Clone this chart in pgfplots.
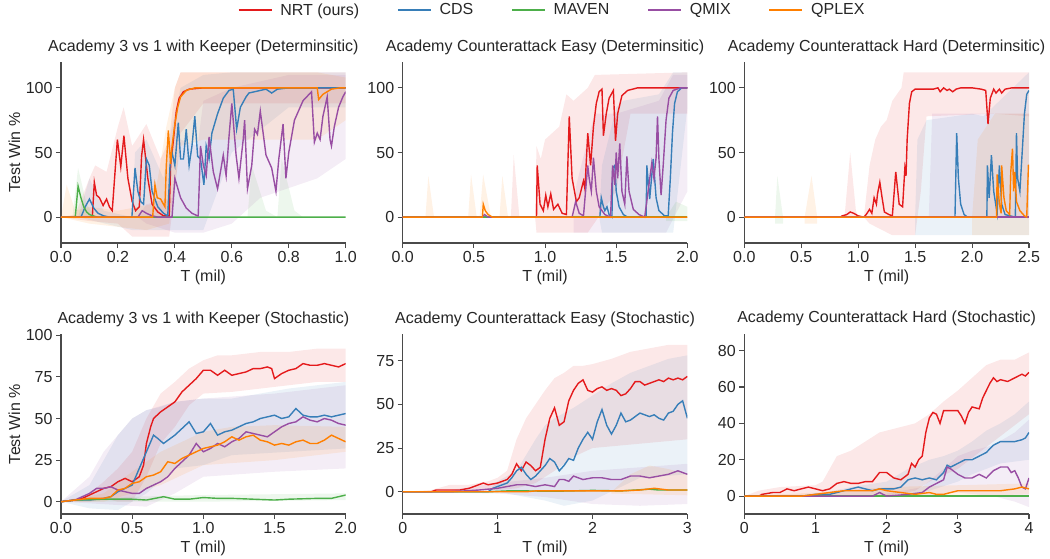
\documentclass[border=0pt]{standalone}
\usepackage{fontspec}
\setmainfont{Liberation Sans}
\usepackage{pgfplots}
\pgfplotsset{compat=1.18}
\definecolor{cR}{HTML}{E41A1C}
\definecolor{cB}{HTML}{377EB8}
\definecolor{cG}{HTML}{4DAF4A}
\definecolor{cP}{HTML}{984EA3}
\definecolor{cO}{HTML}{FF7F00}
\definecolor{txt}{HTML}{262626}
\definecolor{spine}{HTML}{4A4A4A}
\newcommand\fs{\fontsize{16}{19}\selectfont}
\pgfplotsset{
  myax/.style={
    scale only axis, width=284.7pt,
    axis x line*=bottom, axis y line*=left,
    axis line style={spine, line width=1.1pt},
    tick style={spine, line width=1.1pt},
    tick align=outside, major tick length=5pt,
    ticklabel style={font=\fs, text=txt},
    /pgf/number format/assume math mode=true,
    title style={font=\fs, text=txt, at={(axis description cs:0.5,1)}, anchor=base, yshift=5pt},
    xlabel style={font=\fs, text=txt, at={(axis description cs:0.5,0)}, anchor=base, yshift=-38pt},
    ylabel style={font=\fs, text=txt, at={(axis description cs:-0.144,0.5)}, anchor=base},
    xlabel={T (mil)},
    clip=true,
  },
  band/.style={draw=none, fill=#1, fill opacity=0.1, forget plot},
  ln/.style={draw=#1, line width=1.4pt, mark=none, forget plot},
}
\begin{document}
\begin{tikzpicture}
\path[use as bounding box] (0,0) rectangle (1050pt,-559pt);
%================ Plot 1
\begin{axis}[myax, height=181pt, at={(61pt,-243pt)}, anchor=south west,
  xmin=0, xmax=1, ymin=-20, ymax=120,
  xtick={0,0.2,0.4,0.6,0.8,1}, xticklabels={0.0,0.2,0.4,0.6,0.8,1.0},
  ytick={0,50,100}, yticklabels={0,50,100},
  title={Academy 3 vs 1 with Keeper (Determinsitic)}, ylabel={Test Win \%},
  legend columns=5,
  legend style={draw=none, fill=none, font=\fs, text=txt, at={(axis description cs:1.7254,1.2873)}, anchor=center,
    /tikz/every even column/.append style={column sep=36pt},
    /tikz/every odd column/.append style={column sep=6pt}},
  legend image code/.code={\draw[#1] (0pt,0pt) -- (33pt,0pt);},
]
\addlegendimage{cR, line width=1.4pt}\addlegendentry{NRT (ours)}
\addlegendimage{cB, line width=1.4pt}\addlegendentry{CDS}
\addlegendimage{cG, line width=1.4pt}\addlegendentry{MAVEN}
\addlegendimage{cP, line width=1.4pt}\addlegendentry{QMIX}
\addlegendimage{cO, line width=1.4pt}\addlegendentry{QPLEX}
% bands
\addplot[band=cR] coordinates {(0,0) (0.05,2) (0.1,30) (0.12,40) (0.16,35) (0.2,70) (0.22,85) (0.25,55) (0.3,72) (0.35,45) (0.38,60) (0.4,100) (0.42,112) (1.0,112) (1.0,88) (0.5,88) (0.42,65) (0.4,20) (0.38,-15) (0.25,-15) (0.2,-5) (0.1,-3) (0,0)} -- cycle;
\addplot[band=cB] coordinates {(0.06,0) (0.1,30) (0.15,5) (0.25,0) (0.26,50) (0.3,60) (0.36,30) (0.38,60) (0.42,100) (0.5,110) (0.6,112) (1.0,112) (1.0,85) (0.8,85) (0.6,50) (0.5,-10) (0.38,-10) (0.25,-10) (0.06,0)} -- cycle;
\addplot[band=cG] coordinates {(0.04,0) (0.06,38) (0.09,10) (0.12,0)} -- cycle;
\addplot[band=cG] coordinates {(0.655,0) (0.67,40) (0.72,5) (0.76,0)} -- cycle;
\addplot[band=cG] coordinates {(0.76,0) (0.775,45) (0.82,5) (0.85,0)} -- cycle;
\addplot[band=cP] coordinates {(0.27,0) (0.3,10) (0.39,15) (0.42,60) (0.48,55) (0.5,90) (0.6,100) (0.7,105) (0.8,110) (1.0,110) (1.0,45) (0.9,30) (0.7,15) (0.6,-5) (0.5,-12) (0.4,-12) (0.3,-5) (0.27,0)} -- cycle;
\addplot[band=cO] coordinates {(0,0) (0.02,25) (0.05,5) (0.1,8) (0.2,5) (0.32,10) (0.34,30) (0.37,70) (0.4,100) (0.42,112) (0.9,112) (1.0,108) (1.0,75) (0.9,60) (0.5,60) (0.42,55) (0.38,-5) (0.3,-10) (0.1,-5) (0,0)} -- cycle;
% lines
\addplot[ln=cR] coordinates {(0,0) (0.11,0) (0.117,27) (0.125,17) (0.135,15) (0.148,9) (0.16,14) (0.17,8) (0.18,5) (0.198,60) (0.21,39) (0.221,63) (0.235,30) (0.25,12) (0.262,5) (0.275,8) (0.283,47) (0.29,60) (0.305,30) (0.32,10) (0.34,4) (0.36,1) (0.38,1) (0.385,40) (0.395,60) (0.405,82) (0.415,92) (0.43,97) (0.45,99) (0.5,100) (1.0,100)};
\addplot[ln=cB] coordinates {(0,0) (0.07,0) (0.085,8) (0.1,14) (0.115,7) (0.13,3) (0.15,1) (0.17,0) (0.249,0) (0.26,38) (0.27,20) (0.28,12) (0.29,10) (0.30,45) (0.31,40) (0.32,20) (0.34,8) (0.36,3) (0.375,1) (0.383,40) (0.39,50) (0.40,40) (0.412,73) (0.42,45) (0.43,45) (0.44,68) (0.45,40) (0.46,55) (0.47,78) (0.48,47) (0.49,45) (0.502,25) (0.51,55) (0.52,45) (0.53,65) (0.55,80) (0.57,92) (0.59,98) (0.605,99) (0.617,68) (0.63,85) (0.65,93) (0.66,96) (0.68,97) (0.70,98) (0.72,99) (0.74,96) (0.76,99) (0.8,100) (1.0,100)};
\addplot[ln=cG] coordinates {(0,0) (0.05,0) (0.06,24) (0.07,15) (0.08,8) (0.09,4) (0.1,2) (0.12,0.5) (0.13,0) (1.0,0)};
\addplot[ln=cP] coordinates {(0,0) (0.27,0) (0.285,5) (0.30,3) (0.32,1) (0.34,0) (0.39,0) (0.40,30) (0.42,15) (0.44,7) (0.46,3) (0.48,1) (0.482,1) (0.49,55) (0.50,40) (0.51,32) (0.52,62) (0.535,35) (0.55,22) (0.57,48) (0.58,32) (0.59,62) (0.60,88) (0.615,48) (0.625,30) (0.64,60) (0.645,75) (0.655,22) (0.67,40) (0.68,68) (0.69,64) (0.70,82) (0.71,65) (0.72,48) (0.74,38) (0.755,20) (0.765,45) (0.78,72) (0.79,30) (0.80,50) (0.82,75) (0.85,90) (0.88,97) (0.89,58) (0.90,65) (0.91,60) (0.92,78) (0.935,93) (0.945,60) (0.95,55) (0.96,70) (0.975,85) (0.99,93) (1.0,97)};
\addplot[ln=cO] coordinates {(0,0) (0.322,0) (0.33,25) (0.338,15) (0.35,14) (0.36,10) (0.365,8) (0.37,40) (0.377,67) (0.385,41) (0.39,55) (0.40,72) (0.41,85) (0.42,93) (0.44,98) (0.47,100) (0.90,100) (0.905,91) (0.92,95) (0.95,99) (0.98,100) (1.0,100)};
\end{axis}
%================ Plot 2
\begin{axis}[myax, height=181pt, at={(402.7pt,-243pt)}, anchor=south west,
  xmin=0, xmax=2, ymin=-20, ymax=120,
  xtick={0,0.5,1,1.5,2}, xticklabels={0.0,0.5,1.0,1.5,2.0},
  ytick={0,50,100}, yticklabels={0,50,100},
  title={Academy Counterattack Easy (Determinsitic)},
]
\addplot[band=cO] coordinates {(0.16,0) (0.18,32) (0.22,0)} -- cycle;
\addplot[band=cO] coordinates {(0.46,0) (0.48,33) (0.52,0)} -- cycle;
\addplot[band=cO] coordinates {(0.54,0) (0.565,33) (0.62,0)} -- cycle;
\addplot[band=cO] coordinates {(0.68,0) (0.70,32) (0.74,0)} -- cycle;
\addplot[band=cR] coordinates {(0.76,0) (0.78,48) (0.82,0)} -- cycle;
\addplot[band=cR] coordinates {(0.93,0) (0.94,55) (0.97,45) (1.0,60) (1.05,65) (1.1,70) (1.15,95) (1.2,90) (1.3,100) (1.35,110) (2.0,112) (2.0,80) (1.6,80) (1.5,20) (1.3,-12) (1.0,-12) (0.94,-12)} -- cycle;
\addplot[band=cP] coordinates {(1.2,0) (1.22,25) (1.3,60) (1.35,80) (1.5,80) (1.8,90) (1.9,110) (2.0,110) (2.0,20) (1.85,-12) (1.2,-12)} -- cycle;
\addplot[band=cB] coordinates {(1.38,0) (1.4,40) (1.5,85) (1.55,90) (1.8,95) (1.9,112) (2.0,112) (2.0,85) (1.9,-12) (1.4,-12)} -- cycle;
\addplot[band=cG] coordinates {(1.85,0) (1.92,12) (2.0,8) (2.0,-3) (1.85,-3)} -- cycle;
\addplot[ln=cR] coordinates {(0,0) (0.94,0) (0.945,40) (0.965,10) (0.988,5) (1.005,17) (1.02,8) (1.04,18) (1.06,6) (1.09,10) (1.12,3) (1.15,2) (1.17,78) (1.19,30) (1.22,12) (1.24,15) (1.27,28) (1.28,22) (1.30,65) (1.32,40) (1.34,70) (1.36,88) (1.38,97) (1.40,99) (1.41,63) (1.43,80) (1.45,92) (1.48,98) (1.495,59) (1.51,80) (1.54,94) (1.58,98) (1.65,100) (2.0,100)};
\addplot[ln=cB] coordinates {(0,0) (1.385,0) (1.395,15) (1.41,8) (1.42,5) (1.435,8) (1.45,2) (1.47,0) (1.475,38) (1.49,40) (1.50,20) (1.52,8) (1.55,2) (1.58,0) (1.71,0) (1.715,40) (1.735,14) (1.76,45) (1.78,15) (1.80,5) (1.84,1) (1.865,1) (1.88,30) (1.895,65) (1.91,88) (1.93,97) (1.96,100) (2.0,100)};
\addplot[ln=cG] coordinates {(0,0) (2,0)};
\addplot[ln=cP] coordinates {(0,0) (0.56,0) (0.575,2) (0.60,0) (1.19,0) (1.215,12) (1.24,3) (1.27,1) (1.30,40) (1.31,30) (1.325,20) (1.34,46) (1.36,20) (1.38,8) (1.42,2) (1.46,0) (1.475,40) (1.49,25) (1.50,50) (1.51,30) (1.525,57) (1.54,20) (1.56,10) (1.575,47) (1.59,20) (1.62,6) (1.66,2) (1.70,0) (1.75,42) (1.765,30) (1.78,46) (1.79,78) (1.80,45) (1.815,17) (1.83,40) (1.85,75) (1.87,92) (1.90,98) (1.95,100) (2.0,100)};
\addplot[ln=cO] coordinates {(0,0) (0.56,0) (0.566,10) (0.58,5) (0.60,2) (0.63,0) (2.0,0)};
\end{axis}
%================ Plot 3
\begin{axis}[myax, height=181pt, at={(744.3pt,-243pt)}, anchor=south west,
  xmin=0, xmax=2.5, ymin=-20, ymax=120,
  xtick={0,0.5,1,1.5,2,2.5}, xticklabels={0.0,0.5,1.0,1.5,2.0,2.5},
  ytick={0,50,100}, yticklabels={0,50,100},
  title={Academy Counterattack Hard (Determinsitic)},
]
\addplot[band=cG] coordinates {(0.27,0) (0.29,32) (0.34,0) (0.34,-5) (0.27,-5)} -- cycle;
\addplot[band=cO] coordinates {(0.53,0) (0.59,32) (0.64,0) (0.64,-5) (0.53,-5)} -- cycle;
\addplot[band=cR] coordinates {(0.88,0) (0.93,50) (0.98,5) (1.0,0)} -- cycle;
\addplot[band=cR] coordinates {(1.05,0) (1.1,40) (1.15,60) (1.2,70) (1.25,75) (1.3,90) (1.38,100) (1.4,112) (2.5,112) (2.5,78) (2.2,80) (1.6,78) (1.55,20) (1.5,-14) (1.3,-14) (1.1,-5)} -- cycle;
\addplot[band=cB] coordinates {(1.5,0) (1.52,60) (1.6,75) (2.0,80) (2.1,78) (2.3,95) (2.5,112) (2.5,-14) (1.5,-14)} -- cycle;
\addplot[band=cP] coordinates {(1.62,0) (1.65,80) (2.5,80) (2.5,0)} -- cycle;
\addplot[band=cO] coordinates {(2.0,0) (2.05,60) (2.2,80) (2.5,80) (2.5,-14) (2.0,-14)} -- cycle;
\addplot[ln=cR] coordinates {(0,0) (0.84,0) (0.86,1) (0.90,2) (0.93,4) (0.96,3) (1.0,1) (1.05,0) (1.07,2) (1.10,6) (1.12,3) (1.14,15) (1.16,10) (1.17,18) (1.19,27) (1.21,15) (1.23,4) (1.27,2) (1.30,1) (1.33,35) (1.36,10) (1.39,8) (1.41,38) (1.42,32) (1.43,60) (1.45,88) (1.47,97) (1.50,99) (1.60,99) (1.66,99) (1.70,100) (1.72,97) (1.75,100) (1.78,98) (1.80,99) (1.83,97) (1.86,99) (1.90,100) (2.0,100) (2.08,99) (2.12,98) (2.14,72) (2.16,92) (2.19,99) (2.21,96) (2.24,99) (2.26,96) (2.29,99) (2.35,100) (2.5,100)};
\addplot[ln=cB] coordinates {(0,0) (1.85,0) (1.865,65) (1.88,30) (1.90,10) (1.93,2) (1.96,0) (2.13,0) (2.135,40) (2.15,15) (2.17,48) (2.19,20) (2.22,3) (2.24,40) (2.26,10) (2.29,2) (2.38,0) (2.39,65) (2.40,30) (2.42,20) (2.44,50) (2.46,80) (2.48,95) (2.5,98)};
\addplot[ln=cG] coordinates {(0,0) (2.5,0)};
\addplot[ln=cP] coordinates {(0,0) (2.5,0)};
\addplot[ln=cO] coordinates {(0,0) (2.215,0) (2.22,33) (2.24,10) (2.255,3) (2.26,40) (2.28,15) (2.30,5) (2.33,2) (2.34,35) (2.355,53) (2.365,20) (2.375,35) (2.39,12) (2.42,5) (2.46,1) (2.48,0) (2.495,40) (2.5,40)};
\end{axis}
%================ Plot 4
\begin{axis}[myax, height=180pt, at={(61pt,-514pt)}, anchor=south west,
  xmin=0, xmax=2, ymin=-7.4, ymax=100.8,
  xtick={0,0.5,1,1.5,2}, xticklabels={0.0,0.5,1.0,1.5,2.0},
  ytick={0,25,50,75,100}, yticklabels={0,25,50,75,100},
  title={Academy 3 vs 1 with Keeper (Stochastic)}, ylabel={Test Win \%},
]
\addplot[band=cR] coordinates {(0,0) (0.1,2) (0.2,5) (0.3,12) (0.4,20) (0.5,30) (0.6,50) (0.7,65) (0.8,72) (0.9,80) (1.0,85) (1.1,88) (1.2,88) (1.4,90) (1.6,90) (1.8,92) (2.0,92) (2.0,72) (1.8,72) (1.6,70) (1.4,68) (1.2,66) (1.0,65) (0.9,58) (0.8,45) (0.7,35) (0.6,15) (0.5,0) (0.4,0) (0.3,2) (0.2,0) (0,0)} -- cycle;
\addplot[band=cB] coordinates {(0,0) (0.2,10) (0.3,25) (0.4,40) (0.5,50) (0.6,55) (0.7,57) (0.8,60) (1.0,62) (1.2,62) (1.4,65) (1.6,68) (1.8,70) (2.0,72) (2.0,32) (1.6,30) (1.2,28) (1.0,22) (0.8,20) (0.6,5) (0.4,-5) (0.2,-4) (0,0)} -- cycle;
\addplot[band=cG] coordinates {(0,0) (0.5,3) (1,4) (2,5) (2,1) (1,0) (0,0)} -- cycle;
\addplot[band=cP] coordinates {(0,0) (0.2,15) (0.3,30) (0.4,40) (0.5,50) (0.6,55) (0.8,60) (1.0,62) (1.5,65) (2.0,70) (2.0,20) (1.5,18) (1.0,15) (0.8,5) (0.6,-3) (0.4,-2) (0,0)} -- cycle;
\addplot[band=cO] coordinates {(0,0) (0.3,5) (0.5,18) (0.7,30) (0.9,38) (1.0,42) (1.2,45) (1.5,46) (2.0,45) (2.0,30) (1.5,25) (1.0,22) (0.7,10) (0.5,5) (0.3,0) (0,0)} -- cycle;
\addplot[ln=cR] coordinates {(0,0) (0.05,0.5) (0.1,1) (0.15,2) (0.2,4) (0.25,6) (0.3,8) (0.35,9) (0.4,12) (0.45,14) (0.5,12) (0.55,15) (0.58,22) (0.6,35) (0.63,45) (0.65,50) (0.7,54) (0.75,57) (0.8,60) (0.85,66) (0.9,70) (0.95,74) (1.0,79) (1.05,79) (1.1,76) (1.15,79) (1.2,76) (1.25,77) (1.3,78) (1.35,80) (1.4,80) (1.45,81) (1.48,80) (1.5,74) (1.55,77) (1.6,79) (1.65,80) (1.7,83) (1.75,82) (1.8,82) (1.85,83) (1.9,82) (1.95,81) (2.0,83)};
\addplot[ln=cB] coordinates {(0,0) (0.1,1) (0.2,1) (0.3,2) (0.35,3) (0.4,6) (0.45,8) (0.5,10) (0.55,20) (0.6,30) (0.65,40) (0.68,38) (0.72,35) (0.8,40) (0.85,44) (0.9,48) (0.95,41) (1.0,42) (1.05,47) (1.1,40) (1.15,42) (1.2,43) (1.3,47) (1.35,48) (1.4,50) (1.45,51) (1.5,52) (1.55,50) (1.6,51) (1.65,56) (1.7,52) (1.75,51) (1.8,51) (1.85,52) (1.9,51) (1.95,52) (2.0,53)};
\addplot[ln=cG] coordinates {(0,0) (0.1,1) (0.3,1.5) (0.5,1.5) (0.6,1) (0.72,3) (0.8,1.5) (0.9,1.5) (1.0,2.5) (1.1,2) (1.2,2) (1.35,1.5) (1.5,1) (1.6,1.5) (1.8,2) (1.9,2) (1.95,3) (2.0,4)};
\addplot[ln=cP] coordinates {(0,0) (0.1,1) (0.15,3) (0.2,5) (0.25,8) (0.3,8) (0.35,9) (0.4,7) (0.45,6) (0.5,5) (0.55,5) (0.6,8) (0.65,10) (0.7,12) (0.75,15) (0.8,20) (0.85,24) (0.9,28) (0.95,35) (1.0,30) (1.05,32) (1.1,35) (1.15,33) (1.2,36) (1.25,38) (1.3,42) (1.35,41) (1.4,40) (1.45,39) (1.5,42) (1.55,45) (1.6,47) (1.65,48) (1.7,51) (1.75,49) (1.8,48) (1.85,50) (1.9,49) (1.95,47) (2.0,46)};
\addplot[ln=cO] coordinates {(0,0) (0.1,1) (0.2,2) (0.3,2) (0.35,3) (0.4,7) (0.45,8) (0.5,11) (0.55,12) (0.6,15) (0.65,16) (0.7,18) (0.75,24) (0.8,23) (0.85,26) (0.9,28) (0.95,30) (1.0,32) (1.05,33) (1.1,34) (1.15,36) (1.2,39) (1.25,37) (1.3,39) (1.35,40) (1.4,37) (1.45,36) (1.5,34) (1.55,35) (1.6,34) (1.65,36) (1.7,37) (1.75,35) (1.8,35) (1.85,37) (1.9,40) (1.95,38) (2.0,36)};
\end{axis}
%================ Plot 5
\begin{axis}[myax, height=180pt, at={(402.7pt,-514pt)}, anchor=south west,
  xmin=0, xmax=3, ymin=-12.7, ymax=90.2,
  xtick={0,1,2,3}, xticklabels={0,1,2,3},
  ytick={0,25,50,75}, yticklabels={0,25,50,75},
  title={Academy Counterattack Easy (Stochastic)},
]
\addplot[band=cR] coordinates {(0,0) (0.3,1) (0.5,4) (0.7,4) (0.9,6) (1.0,8) (1.1,12) (1.2,30) (1.3,42) (1.4,50) (1.5,58) (1.6,65) (1.7,68) (1.8,72) (1.9,72) (2.0,73) (2.2,76) (2.4,80) (2.6,82) (2.8,84) (3.0,84) (3.0,30) (2.6,28) (2.2,26) (2.0,25) (1.8,20) (1.6,12) (1.4,5) (1.2,2) (1.0,1) (0,0)} -- cycle;
\addplot[band=cB] coordinates {(0.9,0) (1.0,6) (1.2,12) (1.4,30) (1.5,38) (1.6,42) (1.8,48) (2.0,55) (2.2,62) (2.4,68) (2.6,72) (2.8,76) (3.0,78) (3.0,10) (2.5,8) (2.0,-5) (1.7,-8) (1.5,-5) (1.2,-2) (1.0,0) (0.9,0)} -- cycle;
\addplot[band=cP] coordinates {(0,0) (0.5,1) (1.0,5) (1.5,8) (2.0,12) (2.5,14) (3.0,16) (3.0,-7) (2.5,-8) (2.0,-7) (1.5,-3) (1.0,-1) (0,0)} -- cycle;
\addplot[band=cO] coordinates {(2.2,0) (2.4,10) (2.6,15) (2.8,13) (3.0,10) (3.0,-2) (2.2,-1)} -- cycle;
\addplot[ln=cR] coordinates {(0,0) (0.3,0) (0.35,1) (0.45,1) (0.6,1) (0.7,2) (0.8,4) (0.85,5) (0.9,4) (1.0,5) (1.05,6) (1.1,7) (1.15,10) (1.2,16) (1.25,12) (1.3,17) (1.35,15) (1.4,12) (1.45,14) (1.5,30) (1.55,42) (1.6,48) (1.65,38) (1.7,40) (1.75,52) (1.8,58) (1.85,62) (1.9,64) (1.95,58) (2.0,57) (2.05,59) (2.1,60) (2.15,58) (2.2,59) (2.25,58) (2.3,55) (2.35,56) (2.4,59) (2.45,63) (2.5,63) (2.55,61) (2.6,62) (2.65,63) (2.7,64) (2.75,63) (2.8,65) (2.85,64) (2.9,65) (2.95,64) (3.0,66)};
\addplot[ln=cB] coordinates {(0,0) (0.9,0) (0.95,2) (1.0,3) (1.05,4) (1.1,5) (1.15,8) (1.2,12) (1.25,14) (1.3,10) (1.35,7) (1.4,9) (1.45,12) (1.5,15) (1.55,19) (1.6,17) (1.65,12) (1.7,15) (1.75,19) (1.8,18) (1.85,25) (1.9,30) (1.95,34) (2.0,30) (2.05,40) (2.1,47) (2.15,38) (2.2,33) (2.25,38) (2.3,45) (2.35,40) (2.4,41) (2.45,43) (2.5,45) (2.55,44) (2.6,43) (2.65,44) (2.7,42) (2.75,41) (2.8,45) (2.85,46) (2.9,50) (2.95,52) (3.0,42)};
\addplot[ln=cG] coordinates {(0,0) (0.9,0) (1.1,0.5) (1.3,0.5) (1.6,0.3) (2.0,0.8) (2.3,0.5) (2.6,1.5) (2.7,1) (3.0,1)};
\addplot[ln=cP] coordinates {(0,0) (0.5,0) (0.8,1) (1.0,2) (1.1,3) (1.2,4) (1.3,4) (1.4,3) (1.5,4) (1.6,3) (1.65,7) (1.7,7) (1.75,6) (1.8,9) (1.85,8) (1.9,7) (2.0,8) (2.1,8) (2.2,7) (2.3,7) (2.4,9) (2.5,9) (2.6,8) (2.7,9) (2.8,10) (2.85,11) (2.9,12) (2.95,11) (3.0,10)};
\addplot[ln=cO] coordinates {(0,0) (1.3,0) (1.4,0.5) (2.0,0.5) (2.3,0.5) (2.5,1) (2.65,2) (2.8,1) (3.0,1)};
\end{axis}
%================ Plot 6
\begin{axis}[myax, height=180pt, at={(744.3pt,-514pt)}, anchor=south west,
  xmin=0, xmax=4, ymin=-9.8, ymax=89.1,
  xtick={0,1,2,3,4}, xticklabels={0,1,2,3,4},
  ytick={0,20,40,60,80}, yticklabels={0,20,40,60,80},
  title={Academy Counterattack Hard (Stochastic)},
]
\addplot[band=cR] coordinates {(0,0) (0.2,3) (0.5,5) (1.0,6) (1.1,8) (1.2,15) (1.3,22) (1.5,25) (1.7,30) (1.9,35) (2.0,36) (2.2,38) (2.4,40) (2.6,45) (2.8,52) (3.0,58) (3.2,65) (3.4,72) (3.6,75) (3.8,75) (4.0,79) (4.0,45) (3.5,30) (3.0,15) (2.6,8) (2.4,3) (2.0,0) (1.0,0) (0,0)} -- cycle;
\addplot[band=cB] coordinates {(0,0) (1,1) (1.5,5) (2,8) (2.3,15) (2.6,20) (2.8,22) (3,25) (3.2,30) (3.4,36) (3.6,40) (3.8,45) (4.0,52) (4.0,20) (3.6,18) (3.2,12) (3.0,8) (2.6,3) (2.2,0) (0,0)} -- cycle;
\addplot[band=cP] coordinates {(1.8,0) (2.5,5) (2.8,15) (3.0,22) (3.2,25) (3.5,28) (3.8,35) (4.0,42) (4.0,-6) (3.8,-3) (3.5,0) (3.0,2) (2.5,0) (1.8,0)} -- cycle;
\addplot[band=cO] coordinates {(0,0) (1,2) (2,5) (3,6) (4,7) (4,1) (3,0) (2,0) (0,0)} -- cycle;
\addplot[ln=cR] coordinates {(0,0) (0.2,0) (0.25,1) (0.4,2) (0.5,2) (0.6,4) (0.7,3) (0.8,4) (0.9,5) (1.0,4) (1.1,3) (1.2,4) (1.3,7) (1.4,8) (1.5,7) (1.6,7) (1.7,8) (1.8,8) (1.9,13) (2.0,13) (2.1,10) (2.2,9) (2.3,12) (2.35,18) (2.4,16) (2.45,20) (2.5,22) (2.55,35) (2.6,43) (2.65,46) (2.7,45) (2.75,40) (2.8,47) (2.9,47) (3.0,47) (3.05,44) (3.1,40) (3.15,46) (3.2,49) (3.3,48) (3.35,54) (3.4,58) (3.45,62) (3.5,65) (3.55,63) (3.6,64) (3.7,63) (3.8,65) (3.9,67) (3.95,66) (4.0,68)};
\addplot[ln=cB] coordinates {(0,0) (0.8,0) (1.0,1) (1.2,1) (1.4,3) (1.5,4) (1.6,5) (1.7,4) (1.8,3) (1.9,4) (2.0,4) (2.1,4) (2.2,5) (2.3,9) (2.4,10) (2.5,9) (2.6,10) (2.7,9) (2.75,11) (2.8,13) (2.85,17) (2.9,16) (3.0,18) (3.1,20) (3.2,20) (3.3,22) (3.4,24) (3.5,28) (3.6,30) (3.7,30) (3.8,30) (3.9,31) (3.95,32) (4.0,35)};
\addplot[ln=cG] coordinates {(0,0) (4,0)};
\addplot[ln=cP] coordinates {(0,0) (1.8,0) (1.9,2) (2.0,0) (2.3,1) (2.5,2) (2.6,5) (2.7,7) (2.8,9) (2.85,16) (2.9,15) (3.0,12) (3.1,10) (3.2,10) (3.3,12) (3.4,10) (3.5,14) (3.6,16) (3.7,16) (3.75,13) (3.8,14) (3.85,10) (3.9,5) (3.95,4) (4.0,10)};
\addplot[ln=cO] coordinates {(0,0) (0.8,0) (1.0,1) (1.2,2) (1.4,3) (1.6,3) (1.8,3) (1.9,4) (2.0,3) (2.2,2) (2.4,1) (2.6,2) (2.7,1) (2.8,1) (3.0,3) (3.2,3) (3.4,3) (3.6,3) (3.8,4) (3.9,5) (4.0,4)};
\end{axis}
\end{tikzpicture}
\end{document}
